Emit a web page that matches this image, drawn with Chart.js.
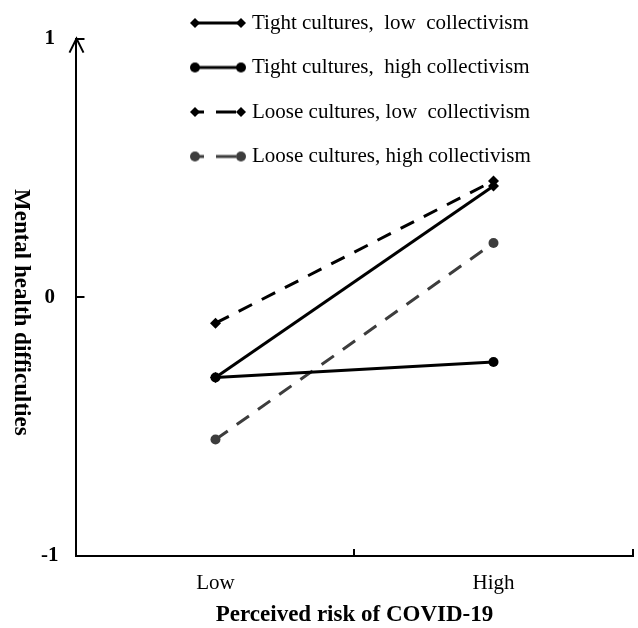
<!DOCTYPE html>
<html>
<head>
<meta charset="utf-8">
<script src="https://cdn.jsdelivr.net/npm/chart.js@4.4.1/dist/chart.umd.min.js"></script>
<style>
  html, body { margin: 0; padding: 0; background: #fff; }
  #wrap { width: 638px; height: 628px; }
</style>
</head>
<body>
<div id="wrap"><canvas id="myChart"></canvas></div>
<script>
// data
const riskLevels = ['Low', 'High'];
const seriesNames = [
  'Tight cultures,  low  collectivism',
  'Tight cultures,  high collectivism',
  'Loose cultures, low  collectivism',
  'Loose cultures, high collectivism'
];
const tightLow = [-0.31, 0.43];
const tightHigh = [-0.31, -0.25];
const looseLow = [-0.10, 0.45];
const looseHigh = [-0.55, 0.21];
const yTicks = [-1, 0, 1];
const xTitle = 'Perceived risk of COVID-19';
const yTitle = 'Mental health difficulties';

const serif = 'Liberation Serif';

// little line + two markers picture used as the legend symbol
function sample(color, dash, marker) {
  const c = document.createElement('canvas');
  c.width = 56; c.height = 16;
  const g = c.getContext('2d');
  g.strokeStyle = color; g.fillStyle = color; g.lineWidth = 3;
  g.setLineDash(dash);
  g.lineDashOffset = dash.length ? 11 : 0;
  g.beginPath(); g.moveTo(5, 8); g.lineTo(51, 8); g.stroke();
  g.setLineDash([]);
  [5, 51].forEach(x => {
    g.beginPath();
    if (marker === 'circle') g.arc(x, 8, 5, 0, Math.PI * 2);
    else { g.moveTo(x, 3); g.lineTo(x + 5, 8); g.lineTo(x, 13); g.lineTo(x - 5, 8); g.closePath(); }
    g.fill();
  });
  return c;
}

const styles = [
  {color: '#000', dash: [], marker: 'rectRot'},
  {color: '#000', dash: [], marker: 'circle'},
  {color: '#000', dash: [15, 11], marker: 'rectRot'},
  {color: '#3d3d3d', dash: [15, 11], marker: 'circle'}
];
const series = [tightLow, tightHigh, looseLow, looseHigh];
const samples = styles.map(s => sample(s.color, s.dash.length ? [20, 12] : [], s.marker));

const datasets = series.map((d, i) => ({
  label: seriesNames[i],
  data: d,
  borderColor: styles[i].color,
  backgroundColor: styles[i].color,
  borderWidth: 3,
  borderDash: styles[i].dash,
  pointStyle: styles[i].marker,
  pointRadius: styles[i].marker === 'circle' ? 5 : 5.5,
  pointBorderWidth: 0,
  tension: 0
}));

// put the legend column above the plot, like the figure
const legendMover = {
  id: 'legendMover',
  afterLayout(chart) {
    const lg = chart.legend;
    if (!lg) return;
    lg.left = 171; lg.top = -11;
    lg.right = 638; lg.bottom = 200;
  }
};

// arrow on top of the y axis and the y title (reads top to bottom)
const axisExtras = {
  id: 'axisExtras',
  afterDraw(chart) {
    const {ctx, chartArea: a} = chart;
    ctx.save();
    ctx.strokeStyle = '#000';
    ctx.lineWidth = 2;
    ctx.beginPath();
    ctx.moveTo(a.left - 7, a.top + 14);
    ctx.lineTo(a.left, a.top);
    ctx.lineTo(a.left + 7, a.top + 14);
    ctx.stroke();
    ctx.translate(21, (a.top + a.bottom) / 2 + 15);
    ctx.rotate(Math.PI / 2);
    ctx.font = 'bold 23px "' + serif + '"';
    ctx.textAlign = 'center';
    ctx.textBaseline = 'middle';
    ctx.fillStyle = '#000';
    ctx.fillText(yTitle, 0, 0);
    ctx.restore();
  }
};

new Chart('myChart', {
  type: 'line',
  data: { labels: riskLevels, datasets: datasets },
  options: {
    responsive: true,
    maintainAspectRatio: false,
    animation: false,
    layout: { padding: { left: 15, top: 38, right: 5, bottom: 0 } },
    plugins: {
      tooltip: { enabled: false },
      legend: {
        position: 'chartArea',
        align: 'start',
        labels: {
          usePointStyle: true,
          pointStyleWidth: 47,
          padding: 23.5,
          color: '#000',
          font: { family: serif, size: 21 },
          generateLabels: chart => chart.data.datasets.map((ds, i) => ({
            text: ds.label,
            pointStyle: samples[i],
            fontColor: '#000',
            fillStyle: ds.borderColor,
            strokeStyle: ds.borderColor,
            lineWidth: 0,
            hidden: false,
            datasetIndex: i
          }))
        }
      }
    },
    scales: {
      x: {
        type: 'category',
        offset: true,
        grid: { offset: true, drawOnChartArea: false, tickLength: -7, color: '#000', lineWidth: 2 },
        border: { color: '#000', width: 2 },
        ticks: { color: '#000', font: { family: serif, size: 21 }, padding: 22 },
        title: {
          display: true, text: xTitle, color: '#000',
          font: { family: serif, size: 23, weight: 'bold' },
          padding: { top: -16.8, bottom: -1 }
        }
      },
      y: {
        min: -1, max: 1,
        afterBuildTicks: s => { s.ticks = yTicks.map(v => ({ value: v })); },
        grid: { drawOnChartArea: false, tickLength: -8, color: '#000', lineWidth: 2 },
        border: { color: '#000', width: 2 },
        ticks: {
          color: '#000', padding: 26, crossAlign: 'center',
          font: { family: serif, size: 21, weight: 'bold' }
        }
      }
    }
  },
  plugins: [legendMover, axisExtras]
});
</script>
</body>
</html>
